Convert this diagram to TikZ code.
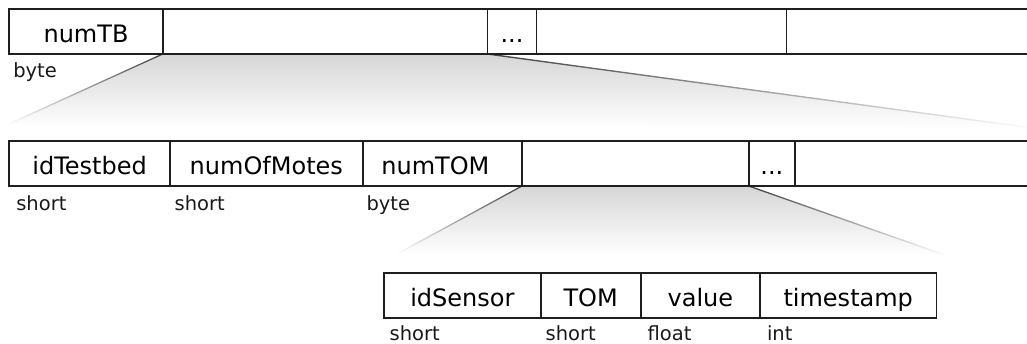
\documentclass[tikz,border=0pt]{standalone}
\usepackage{fontspec}
\setmainfont{DejaVu Sans}
\usetikzlibrary{backgrounds}
\tikzset{
  cell/.style={draw=black!88, line width=1.7pt, fill=white, minimum height=45pt,
    inner sep=0pt, outer sep=0pt, anchor=north west,
    font=\fontsize{24}{28}\selectfont, text height=21.8pt, text depth=0pt},
  typelabel/.style={anchor=base west, inner sep=0pt, outer sep=0pt,
    font=\fontsize{19.5}{23}\selectfont, text=black!90},
  funnel/.style={top color=black!16, middle color=black!5, bottom color=white},
  edgeline/.style={top color=black!75, bottom color=white}
}
\begin{document}
\begin{tikzpicture}[x=1pt,y=-1pt]
  \clip (0,0) rectangle (1027,343);

  % outer record: test beds
  \node[cell, minimum width=153.4pt] (numTB) at (9.3,9) {numTB};
  \node[cell, minimum width=324.8pt] (tb1) at (numTB.north east) {};
  \node[cell, minimum width=49pt] (tbdots) at (tb1.north east) {...};
  \node[cell, minimum width=250pt] (tb2) at (tbdots.north east) {};
  \node[cell, minimum width=260pt] (tb3) at (tb2.north east) {};
  \node[typelabel] (tyTB) at ([xshift=4pt,yshift=-23pt]numTB.south west) {byte};

  % test bed record
  \node[cell, minimum width=160.7pt] (idTestbed) at (9.3,141) {idTestbed};
  \node[cell, minimum width=192.7pt] (numOfMotes) at (idTestbed.north east) {numOfMotes};
  \node[cell, minimum width=159.3pt] (numTOM) at (numOfMotes.north east) {numTOM\hspace*{14pt}};
  \node[cell, minimum width=226.7pt] (tom1) at (numTOM.north east) {};
  \node[cell, minimum width=46.3pt] (tomdots) at (tom1.north east) {...};
  \node[cell, minimum width=250pt] (tom2) at (tomdots.north east) {};
  \node[typelabel] (tyId) at ([xshift=7pt,yshift=-24.5pt]idTestbed.south west) {short};
  \node[typelabel] (tyMotes) at ([xshift=4.7pt,yshift=-24.5pt]numOfMotes.south west) {short};
  \node[typelabel] (tyTOM) at ([xshift=3.8pt,yshift=-24.5pt]numTOM.south west) {byte};

  % measurement record
  \node[cell, minimum width=156.7pt] (idSensor) at (384,273) {idSensor};
  \node[cell, minimum width=100pt] (TOM) at (idSensor.north east) {TOM};
  \node[cell, minimum width=119.3pt] (value) at (TOM.north east) {value};
  \node[cell, minimum width=176.5pt] (timestamp) at (value.north east) {timestamp};
  \node[typelabel] (tySensor) at ([xshift=5.7pt,yshift=-22pt]idSensor.south west) {short};
  \node[typelabel] (tyTOMv) at ([xshift=5pt,yshift=-22pt]TOM.south west) {short};
  \node[typelabel] (tyValue) at ([xshift=6.9pt,yshift=-22pt]value.south west) {float};
  \node[typelabel] (tyStamp) at ([xshift=7pt,yshift=-22pt]timestamp.south west) {int};

  % fading zoom funnels
  \coordinate (f1l) at (9,124);
  \coordinate (f1r) at (1032,128);
  \coordinate (f2l) at (398,253.5);
  \coordinate (f2r) at (946,255.5);
  \begin{pgfonlayer}{background}
    \shade[funnel] (tb1.south west) -- (tbdots.south west) -- (f1r) -- (f1l) -- cycle;
    \shade[edgeline] ([yshift=0.7pt]tb1.south west) -- ([yshift=-0.7pt]tb1.south west)
      -- ([yshift=-0.7pt]f1l) -- ([yshift=0.7pt]f1l) -- cycle;
    \shade[edgeline] ([yshift=0.7pt]tbdots.south west) -- ([yshift=-0.7pt]tbdots.south west)
      -- ([yshift=-0.7pt]f1r) -- ([yshift=0.7pt]f1r) -- cycle;

    \shade[funnel] (tom1.south west) -- (tomdots.south west) -- (f2r) -- (f2l) -- cycle;
    \shade[edgeline] ([yshift=0.7pt]tom1.south west) -- ([yshift=-0.7pt]tom1.south west)
      -- ([yshift=-0.7pt]f2l) -- ([yshift=0.7pt]f2l) -- cycle;
    \shade[edgeline] ([yshift=0.7pt]tomdots.south west) -- ([yshift=-0.7pt]tomdots.south west)
      -- ([yshift=-0.7pt]f2r) -- ([yshift=0.7pt]f2r) -- cycle;
  \end{pgfonlayer}
\end{tikzpicture}
\end{document}
